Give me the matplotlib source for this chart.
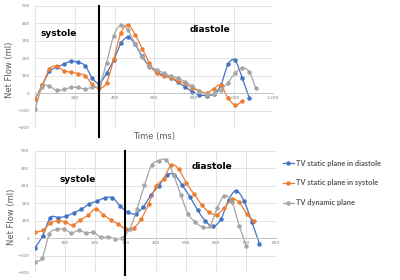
import numpy as np
import matplotlib
matplotlib.use("Agg")
import matplotlib.pyplot as plt

# top chart (time in ms, net flow in ml)
t_top_blue = [0, 36, 72, 108, 144, 180, 216, 252, 288, 324, 360, 396, 432, 468, 504, 540,
              576, 612, 648, 684, 720, 756, 792, 828, 864, 900, 936, 972, 1008, 1044, 1080]
top_blue = [-35, 45, 125, 148, 165, 183, 176, 157, 85, 57, 115, 190, 285, 320, 280, 210,
            155, 122, 102, 88, 62, 35, 8, -10, -14, -5, 45, 165, 187, 85, -30]
t_top_orange = [0, 36, 72, 108, 144, 180, 216, 252, 288, 324, 360, 396, 432, 468, 504, 540,
                576, 612, 648, 684, 720, 756, 792, 828, 864, 900, 936, 972, 1008, 1044]
top_orange = [-35, 45, 140, 155, 128, 120, 112, 100, 50, 27, 60, 193, 345, 392, 335, 255,
              172, 115, 98, 88, 72, 55, 28, 12, 0, 25, 45, -28, -68, -47]
t_top_gray = [0, 36, 72, 108, 144, 180, 216, 252, 288, 324, 360, 396, 432, 468, 504, 540,
              576, 612, 648, 684, 720, 756, 792, 828, 864, 900, 936, 972, 1008, 1044, 1080, 1112]
top_gray = [-91, 35, 38, 15, 22, 32, 32, 23, 35, 45, 175, 330, 390, 360, 280, 205,
            152, 135, 114, 98, 85, 65, 40, 10, -10, -5, 20, 60, 115, 145, 120, 27]

# bottom chart
t_bot_blue = [0, 26, 51, 77, 103, 128, 154, 180, 206, 231, 257, 283, 308, 334, 360, 385,
              411, 437, 463, 488, 514, 540, 565, 591, 617, 643, 668, 694, 720, 745]
bot_blue = [-57, 15, 118, 118, 125, 145, 165, 195, 213, 230, 232, 183, 148, 140, 180, 248,
            300, 362, 363, 305, 238, 160, 100, 67, 108, 220, 272, 212, 92, -32]
t_bot_orange = [0, 25, 50, 75, 100, 126, 151, 176, 201, 226, 251, 276, 302, 327, 352, 377,
                402, 427, 452, 477, 502, 528, 553, 578, 603, 628, 653, 678, 703, 728]
bot_orange = [34, 44, 84, 100, 92, 74, 106, 130, 168, 135, 105, 80, 52, 58, 108, 195,
              298, 340, 420, 395, 318, 252, 192, 148, 135, 172, 222, 205, 138, 97]
t_bot_gray = [0, 24, 48, 73, 97, 121, 145, 169, 194, 218, 242, 266, 290, 315, 339, 363,
              387, 411, 436, 460, 484, 508, 532, 557, 581, 605, 629, 654, 678, 702]
bot_gray = [-135, -113, 25, 50, 50, 30, 45, 30, 33, 6, 8, -3, 3, 55, 169, 303,
            418, 444, 448, 363, 248, 140, 92, 63, 70, 173, 244, 206, 70, -48]

series_names = ["TV static plane in diastole", "TV static plane in systole", "TV dynamic plane"]
colors = ["#4472C4", "#ED7D31", "#A5A5A5"]


def smooth(x, y, n=12):
    # catmull-rom curve through the points, like excel's smoothed lines
    x = np.asarray(x, float)
    y = np.asarray(y, float)
    px = np.concatenate([[2 * x[0] - x[1]], x, [2 * x[-1] - x[-2]]])
    py = np.concatenate([[2 * y[0] - y[1]], y, [2 * y[-1] - y[-2]]])
    s = np.linspace(0, 1, n, endpoint=False)
    xs, ys = [], []
    for i in range(1, len(px) - 2):
        for p, out in ((px, xs), (py, ys)):
            p0, p1, p2, p3 = p[i - 1], p[i], p[i + 1], p[i + 2]
            out.extend(0.5 * (2 * p1 + (-p0 + p2) * s + (2 * p0 - 5 * p1 + 4 * p2 - p3) * s ** 2
                              + (-p0 + 3 * p1 - 3 * p2 + p3) * s ** 3))
    xs.append(x[-1])
    ys.append(y[-1])
    return xs, ys


def setup(ax, xmax, step):
    ax.set_xlim(0, xmax)
    ax.set_ylim(-200, 500)
    xt = list(range(0, xmax + 1, step))
    ax.set_xticks(xt)
    ax.set_xticklabels([""] + [str(v) if v < 1000 else "{:,}".format(v) for v in xt[1:]])
    ax.set_yticks(range(-200, 501, 100))
    ax.grid(True, color="#d9d9d9", lw=0.5)
    ax.set_axisbelow(True)
    for s in ["left", "top", "right"]:
        ax.spines[s].set_visible(False)
    ax.spines["bottom"].set_position(("data", 0))
    ax.spines["bottom"].set_color("#bfbfbf")
    ax.spines["bottom"].set_linewidth(0.6)
    ax.tick_params(length=0, labelsize=3.2, labelcolor="#7f7f7f", pad=2)
    ax.tick_params(axis="y", pad=4)


fig = plt.figure(figsize=(4, 2.8), dpi=100)
ax1 = fig.add_axes([0.088, 0.543, 0.595, 0.436])
ax2 = fig.add_axes([0.0875, 0.025, 0.6025, 0.436])
setup(ax1, 1200, 200)
setup(ax2, 800, 100)

top = [(t_top_blue, top_blue), (t_top_orange, top_orange), (t_top_gray, top_gray)]
bot = [(t_bot_blue, bot_blue), (t_bot_orange, bot_orange), (t_bot_gray, bot_gray)]
for ax, data in ((ax1, top), (ax2, bot)):
    for (x, y), c, name in zip(data, colors, series_names):
        sx, sy = smooth(x, y)
        ax.plot(sx, sy, color=c, lw=0.9)
        ax.plot(x, y, "o", color=c, ms=2.2, mec=c)
        ax.plot([], [], "-o", color=c, lw=0.9, ms=2.2, label=name)

# systole / diastole boundary
ax1.plot([321, 321], [-0.07, 1.0], color="black", lw=1.5,
         transform=ax1.get_xaxis_transform(), clip_on=False, zorder=5)
ax2.plot([300, 300], [-0.02, 1.0], color="black", lw=1.5,
         transform=ax2.get_xaxis_transform(), clip_on=False, zorder=5)

ax1.text(120, 340, "systole", fontsize=6.5, fontweight="bold", ha="center", va="center")
ax1.text(880, 362, "diastole", fontsize=6.5, fontweight="bold", ha="center", va="center")
ax2.text(143, 335, "systole", fontsize=6.5, fontweight="bold", ha="center", va="center")
ax2.text(587, 411, "diastole", fontsize=6.5, fontweight="bold", ha="center", va="center")

fig.text(0.385, 1 - 136 / 280, "Time (ms)", fontsize=6, color="#595959", ha="center", va="center")
fig.text(10 / 400, 0.75, "Net Flow (ml)", fontsize=6, color="#595959", rotation=90,
         ha="center", va="center")
fig.text(12 / 400, 0.225, "Net Flow (ml)", fontsize=6, color="#595959", rotation=90,
         ha="center", va="center")

ax2.legend(loc="upper left", bbox_to_anchor=(0.708, 0.43), bbox_transform=fig.transFigure,
           frameon=False, handlelength=1.4, handletextpad=0.3, labelspacing=1.75,
           prop={"family": "Lato", "size": 5.3, "weight": "bold"}, labelcolor="#595959",
           borderaxespad=0, borderpad=0)

fig.savefig("out.png", dpi=100)
